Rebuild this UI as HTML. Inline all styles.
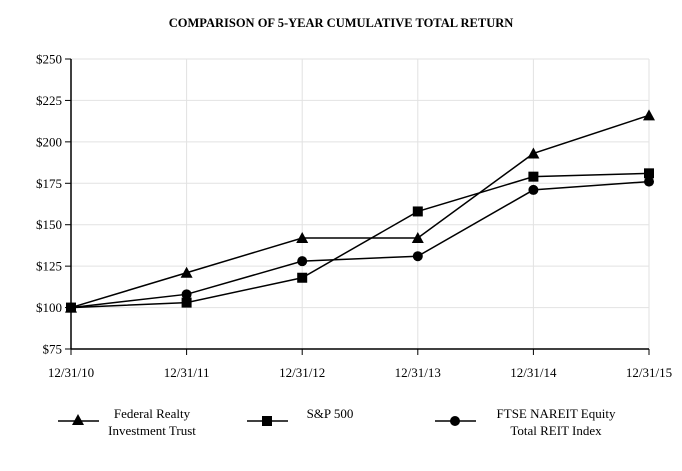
<!DOCTYPE html>
<html><head><meta charset="utf-8"><style>
body{margin:0;background:#fff}
svg, svg text{font-family:"Liberation Serif","DejaVu Serif",serif;fill:#000}
</style></head><body>
<svg width="682" height="466" font-family="Liberation Serif, DejaVu Serif, serif" xmlns="http://www.w3.org/2000/svg">
<text x="341" y="27" text-anchor="middle" font-size="12.5" font-weight="bold" font-family="Liberation Serif, serif">COMPARISON OF 5-YEAR CUMULATIVE TOTAL RETURN</text>
<g id="grid"></g><g id="axes"></g><g id="series"></g>
<g font-family="Liberation Serif, serif">
 <g>
  <line x1="58" y1="421" x2="99" y2="421" stroke="#000" stroke-width="1.5"/>
  <polygon points="78,414 84,425 72,425" fill="#000"/>
  <text x="152" y="418" text-anchor="middle" font-size="13">Federal Realty</text>
  <text x="152" y="435" text-anchor="middle" font-size="13">Investment Trust</text>
 </g>
 <g>
  <line x1="247" y1="421" x2="288" y2="421" stroke="#000" stroke-width="1.5"/>
  <rect x="262" y="416" width="10" height="10" fill="#000"/>
  <text x="330" y="418" text-anchor="middle" font-size="13">S&amp;P 500</text>
 </g>
 <g>
  <line x1="435" y1="421" x2="476" y2="421" stroke="#000" stroke-width="1.5"/>
  <circle cx="455" cy="421" r="5" fill="#000"/>
  <text x="556" y="418" text-anchor="middle" font-size="13">FTSE NAREIT Equity</text>
  <text x="556" y="435" text-anchor="middle" font-size="13">Total REIT Index</text>
 </g>
</g>
</svg>
<script>
const categories=["12/31/10","12/31/11","12/31/12","12/31/13","12/31/14","12/31/15"];
const federal=[100,121,142,142,193,216];
const sp500=[100,103,118,158,179,181];
const ftse=[100,108,128,131,171,176];
const yTicks=[75,100,125,150,175,200,225,250];
const NS="http://www.w3.org/2000/svg";
const x0=71,x1=649,yTop=59,yBot=349,ymin=75,ymax=250;
const X=i=>x0+i*(x1-x0)/(categories.length-1);
const Y=v=>yBot-(v-ymin)*(yBot-yTop)/(ymax-ymin);
function mk(t,a,p){const e=document.createElementNS(NS,t);for(const k in a)e.setAttribute(k,a[k]);p.appendChild(e);return e;}
const grid=document.getElementById('grid'),axes=document.getElementById('axes'),ser=document.getElementById('series');
yTicks.forEach(v=>{
 if(v>ymin){const g=mk('line',{x1:x0,x2:x1,y1:Y(v),y2:Y(v),stroke:'#e2e2e2','stroke-width':1},grid);
 
 }
 mk('line',{x1:x0-6,x2:x0,y1:Y(v),y2:Y(v),stroke:'#000','stroke-width':1},axes);
 const t=mk('text',{x:x0-9,y:Y(v)+4.5,'text-anchor':'end','font-size':13,'font-family':'Liberation Serif, serif'},axes);t.textContent='$'+v;
 
 
});
categories.forEach((c,i)=>{
 if(i>0){const g=mk('line',{x1:X(i),x2:X(i),y1:yTop,y2:yBot,stroke:'#e2e2e2','stroke-width':1},grid);
 
 }
 mk('line',{x1:X(i),x2:X(i),y1:yBot,y2:yBot+6,stroke:'#000','stroke-width':1},axes);
 const t=mk('text',{x:X(i),y:yBot+28,'text-anchor':'middle','font-size':13,'font-family':'Liberation Serif, serif'},axes);t.textContent=c;
 
 
});
const ya=mk('line',{x1:x0,x2:x0,y1:yTop,y2:yBot,stroke:'#000','stroke-width':1.5},axes);


const xa=mk('line',{x1:x0,x2:x1,y1:yBot,y2:yBot,stroke:'#000','stroke-width':1.5},axes);


function series(vals,marker,name){
 const g=mk('g',{},ser);
 
 
 mk('polyline',{points:vals.map((v,i)=>X(i)+','+Y(v)).join(' '),fill:'none',stroke:'#000','stroke-width':1.5},g);
 vals.forEach((v,i)=>{const x=X(i),y=Y(v);let m;
  if(marker==='tri')m=mk('polygon',{points:`${x},${y-6} ${x+6},${y+5} ${x-6},${y+5}`,fill:'#000'},g);
  else if(marker==='sq')m=mk('rect',{x:x-5,y:y-5,width:10,height:10,fill:'#000'},g);
  else m=mk('circle',{cx:x,cy:y,r:5,fill:'#000'},g);
  
  
 });
}
series(ftse,'circ','ftse-nareit-series');
series(sp500,'sq','sp500-series');
series(federal,'tri','federal-realty-series');
</script>
</body></html>
